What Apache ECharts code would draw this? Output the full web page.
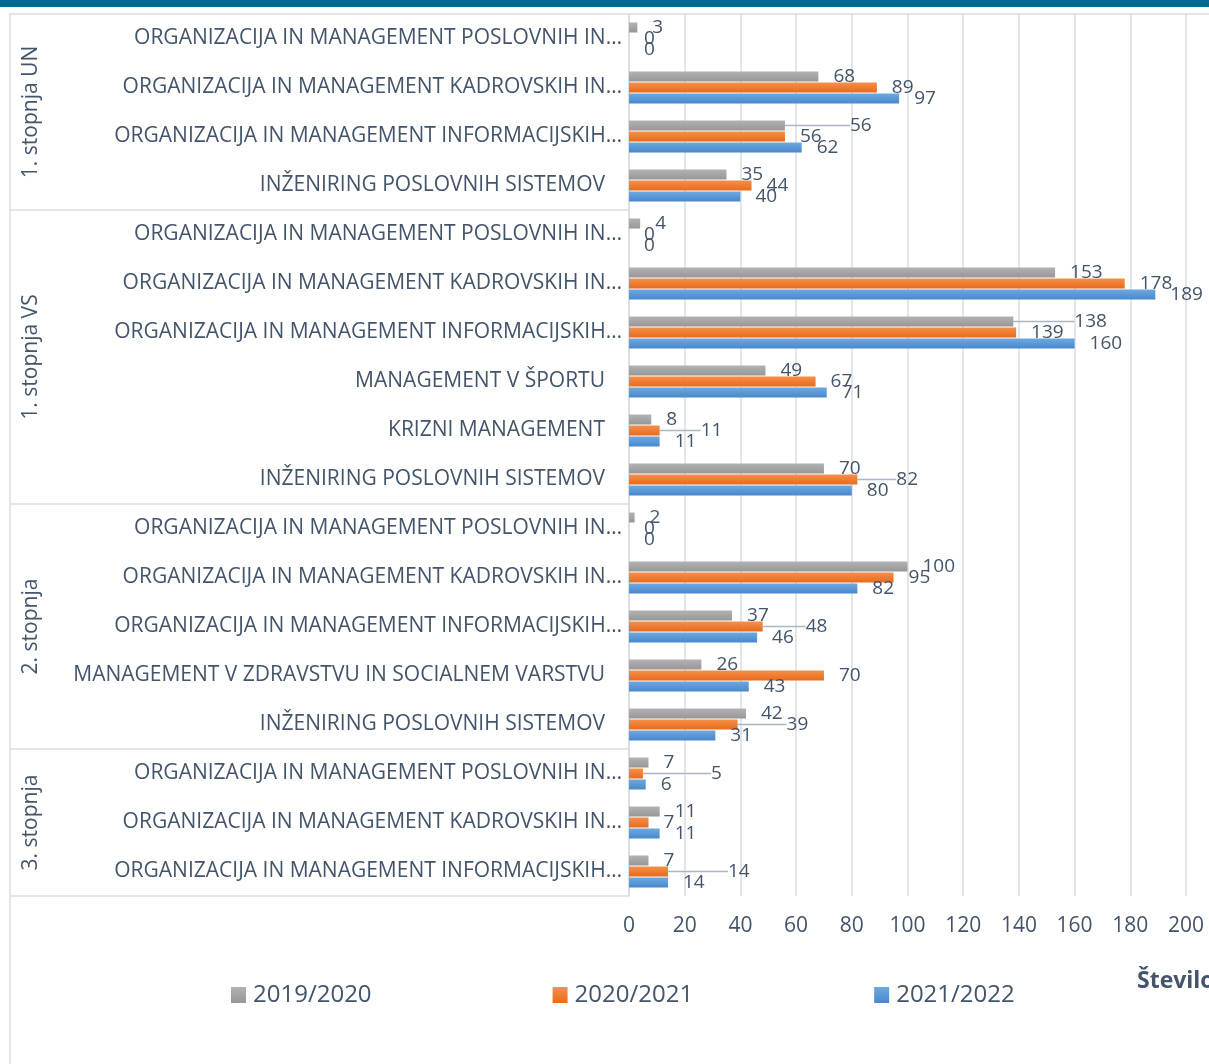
<!DOCTYPE html>
<html>
<head>
<meta charset="utf-8">
<title>Vpisani študenti</title>
<script src="https://cdn.jsdelivr.net/npm/echarts@6/dist/echarts.min.js"></script>
<style>
    html, body { margin: 0; padding: 0; background: #fff; }
    #chart { width: 1209px; height: 1064px; }
</style>
</head>
<body>
<div id="chart"></div>
<script>
// programi od zgoraj navzdol (skrajsana imena kot v izvirniku)
var programi = [
    'ORGANIZACIJA IN MANAGEMENT POSLOVNIH IN…',
    'ORGANIZACIJA IN MANAGEMENT KADROVSKIH IN…',
    'ORGANIZACIJA IN MANAGEMENT INFORMACIJSKIH…',
    'INŽENIRING POSLOVNIH SISTEMOV',
    'ORGANIZACIJA IN MANAGEMENT POSLOVNIH IN…',
    'ORGANIZACIJA IN MANAGEMENT KADROVSKIH IN…',
    'ORGANIZACIJA IN MANAGEMENT INFORMACIJSKIH…',
    'MANAGEMENT V ŠPORTU',
    'KRIZNI MANAGEMENT',
    'INŽENIRING POSLOVNIH SISTEMOV',
    'ORGANIZACIJA IN MANAGEMENT POSLOVNIH IN…',
    'ORGANIZACIJA IN MANAGEMENT KADROVSKIH IN…',
    'ORGANIZACIJA IN MANAGEMENT INFORMACIJSKIH…',
    'MANAGEMENT V ZDRAVSTVU IN SOCIALNEM VARSTVU',
    'INŽENIRING POSLOVNIH SISTEMOV',
    'ORGANIZACIJA IN MANAGEMENT POSLOVNIH IN…',
    'ORGANIZACIJA IN MANAGEMENT KADROVSKIH IN…',
    'ORGANIZACIJA IN MANAGEMENT INFORMACIJSKIH…'
];
var stopnje = ['1. stopnja UN', '1. stopnja VS', '2. stopnja', '3. stopnja'];
var stopnjeSt = [4, 6, 5, 3];

var leta = ['2019/2020', '2020/2021', '2021/2022'];
var v2019 = [3, 68, 56, 35, 4, 153, 138, 49, 8, 70, 2, 100, 37, 26, 42, 7, 11, 7];
var v2020 = [0, 89, 56, 44, 0, 178, 139, 67, 11, 82, 0, 95, 48, 70, 39, 5, 7, 14];
var v2021 = [0, 97, 62, 40, 0, 189, 160, 71, 11, 80, 0, 82, 46, 43, 31, 6, 11, 14];
var xTicks = [0, 200, 20];

// premaknjene oznake (serija, indeks, dx) - kot v izvirniku z vodilno crto
var premiki = [[0, 2, 50], [0, 6, 46], [1, 8, 26], [1, 9, 24], [1, 12, 28], [1, 14, 34], [1, 15, 53], [1, 17, 45]];

var barve = [
    ['#b2b2b2', '#979797'],
    ['#f68f4a', '#e86b1c'],
    ['#6ea8de', '#4788cd']
];
var tekst = '#44546a';
var crte = '#d9dde3';
var font = 'Open Sans';

var myChart = echarts.init(document.getElementById('chart'));

function grad(c) {
    return new echarts.graphic.LinearGradient(0, 0, 0, 1, [
        {offset: 0, color: c[0]}, {offset: 1, color: c[1]}
    ]);
}

function premik(si, di) {
    for (var i = 0; i < premiki.length; i++) {
        if (premiki[i][0] === si && premiki[i][1] === di) return premiki[i][2];
    }
    return 0;
}

var podatki = [v2019, v2020, v2021];
var series = [];
for (let s = 0; s < 3; s++) {
    let data = [];
    for (let i = 0; i < podatki[s].length; i++) {
        if (premik(s, i)) {
            data.push({value: podatki[s][i], labelLine: {show: true}});
        } else {
            data.push(podatki[s][i]);
        }
    }
    series.push({
        name: leta[s],
        type: 'bar',
        data: data,
        barWidth: 10,
        barGap: '10%',
        itemStyle: {color: grad(barve[s])},
        label: {
            show: true,
            position: 'right',
            distance: 15,
            color: tekst,
            fontSize: 19,
            fontFamily: font
        },
        labelLine: {
            show: false,
            lineStyle: {color: '#aab6c4', width: 1.5}
        },
        labelLayout: function (p) {
            let dx = premik(s, p.dataIndex);
            return dx ? {dx: dx} : {};
        }
    });
}

option = {
    animation: false,
    textStyle: {fontFamily: font},
    grid: {left: 629, top: 14, width: 557, height: 882},
    legend: {
        data: leta,
        left: 226,
        top: 978,
        icon: 'rect',
        itemWidth: 15,
        itemHeight: 16,
        itemGap: 181,
        textStyle: {fontSize: 24, color: tekst, fontFamily: font, padding: [0, 0, 0, 2]}
    },
    xAxis: {
        type: 'value',
        min: xTicks[0],
        max: xTicks[1],
        interval: xTicks[2],
        axisLine: {show: false},
        axisTick: {show: false},
        splitLine: {lineStyle: {color: crte, width: 1.5}},
        axisLabel: {margin: 20, fontSize: 21, color: tekst, fontFamily: font}
    },
    yAxis: {
        type: 'category',
        inverse: true,
        data: programi,
        axisLine: {lineStyle: {color: crte, width: 1.5}},
        axisTick: {show: false},
        axisLabel: {
            margin: 7,
            fontSize: 21,
            color: tekst,
            fontFamily: font,
            formatter: function (v) {
                return v.charAt(v.length - 1) === '…' ? v : '{f|' + v + '}';
            },
            rich: {
                f: {fontSize: 21, color: tekst, fontFamily: font, padding: [0, 17, 0, 0]}
            }
        }
    },
    series: series
};
myChart.setOption(option);

// skupine (stopnje) na levi strani osi
function narisiSkupine() {
    var y0 = myChart.convertToPixel({yAxisIndex: 0}, 0);
    var y1 = myChart.convertToPixel({yAxisIndex: 0}, 1);
    var pas = Math.abs(y1 - y0);
    var xOs = myChart.convertToPixel({xAxisIndex: 0}, 0);
    var levo = 10;
    var g = [];
    g.push({type: 'rect', shape: {x: 0, y: 0, width: 1209, height: 7}, style: {fill: '#006a8e'}, silent: true});
    g.push({type: 'rect', shape: {x: levo, y: y0 - pas / 2, width: 1300, height: 1200},
        style: {fill: null, stroke: crte, lineWidth: 1.5}, silent: true, z: -1});
    var zac = 0;
    for (var i = 0; i < stopnje.length; i++) {
        var kon = zac + stopnjeSt[i];
        var yz = y0 + zac * pas - pas / 2;
        var yk = y0 + kon * pas - pas / 2;
        g.push({type: 'line', shape: {x1: levo, y1: yk, x2: xOs, y2: yk},
            style: {stroke: crte, lineWidth: 1.5}, silent: true});
        g.push({type: 'text', x: 31, y: (yz + yk) / 2, rotation: Math.PI / 2,
            style: {text: stopnje[i], fontSize: 21, fontFamily: font, fill: tekst,
                align: 'center', verticalAlign: 'middle'}});
        zac = kon;
    }
    g.push({type: 'text', x: 1137, y: 981,
        style: {text: 'Število', fontSize: 23, fontWeight: 'bold', fontFamily: font, fill: tekst,
            align: 'left', verticalAlign: 'middle'}});
    myChart.setOption({graphic: g});
}
narisiSkupine();
</script>
</body>
</html>
